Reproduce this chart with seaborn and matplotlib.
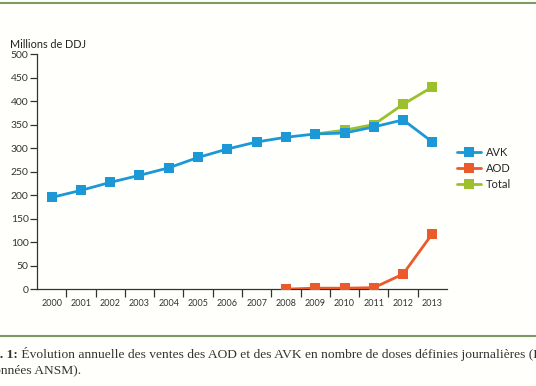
import matplotlib
matplotlib.use("Agg")
import matplotlib.pyplot as plt
import numpy as np
import pandas as pd
import seaborn as sns

years = list(range(2000, 2014))
avk = [195, 210, 227, 242, 258, 280, 298, 313, 323, 330, 332, 345, 360, 313]
aod_years = list(range(2008, 2014))
aod = [0, 2, 2, 3, 32, 118]
total_years = list(range(2009, 2014))
total = [330, 338, 350, 393, 430]

series_names = ["AVK", "AOD", "Total"]
colors = {"AVK": "#1b98d5", "AOD": "#ea5a2a", "Total": "#9cc02c"}

caption_lead = "Fig. 1:"
caption_main = " Évolution annuelle des ventes des AOD et des AVK en nombre de doses définies journalières (DDJ)"
caption_second = "(Données ANSM)."

frames = [
    pd.DataFrame({"year": years, "value": avk, "serie": "AVK"}),
    pd.DataFrame({"year": aod_years, "value": aod, "serie": "AOD"}),
    pd.DataFrame({"year": total_years, "value": total, "serie": "Total"}),
]
df = pd.concat(frames, ignore_index=True)
df["pos"] = df["year"] - years[0]

sns.set_style("white")
plt.rcParams["font.family"] = ["Lato", "DejaVu Sans"]

fig = plt.figure(figsize=(5.36, 3.86), dpi=100, facecolor="#fffffc")
ax = fig.add_axes([0.069, 0.251, 0.765, 0.609])
ax.set_facecolor("#fffffc")

# total drawn underneath AVK
for name, z in [("Total", 2), ("AVK", 3), ("AOD", 4)]:
    sub = df[df["serie"] == name]
    sns.lineplot(data=sub, x="pos", y="value", ax=ax, color=colors[name],
                 marker="s", markersize=6.5, markeredgewidth=0, linewidth=2,
                 label=name, zorder=z)

ax.set_xlim(-0.5, len(years) - 0.5)
ax.set_ylim(0, 500)
ax.set_yticks(np.arange(0, 501, 50))
ax.set_xticks(range(len(years)))
ax.set_xticklabels([str(y) for y in years], fontsize=6.5, color="#333333")
ax.set_xticks(np.arange(0.5, len(years) - 1, 1), minor=True)
ax.tick_params(axis="x", which="major", bottom=True, length=0, pad=7)
ax.tick_params(axis="x", which="minor", bottom=True, length=6, width=0.9,
               color="#333333", direction="out")
ax.tick_params(axis="y", left=True, length=5, width=0.9, color="#333333",
               labelsize=7.5, labelcolor="#333333", pad=1)
ax.set_xlabel("")
ax.set_ylabel("")
ax.grid(False)
for side in ["top", "right"]:
    ax.spines[side].set_visible(False)
for side in ["left", "bottom"]:
    ax.spines[side].set_color("#333333")
    ax.spines[side].set_linewidth(0.9)

handles, labels = ax.get_legend_handles_labels()
order = [labels.index(n) for n in series_names]
ax.legend([handles[i] for i in order], series_names, frameon=False,
          loc="upper left", bbox_to_anchor=(1.024, 0.605), fontsize=8,
          borderpad=0, borderaxespad=0, handlelength=2.2, handletextpad=0.45,
          labelspacing=0.45)

fig.text(0.018, 0.875, "Millions de DDJ", fontsize=7.8, color="#222222")

# framing rules and caption (cropped at the edges like the scanned page)
fig.add_artist(plt.Line2D([0, 1], [0.992, 0.992], color="#7d9a62", linewidth=1.5))
fig.add_artist(plt.Line2D([0, 1], [0.13, 0.13], color="#7d9a62", linewidth=1.5))
serif = ["Liberation Serif", "DejaVu Serif"]
lead = fig.text(-0.036, 0.072, caption_lead, fontsize=9.7, fontweight="bold",
                color="#333333", family=serif)
ax.annotate(caption_main, xy=(1, 0), xycoords=lead, va="bottom", ha="left",
            fontsize=9.7, color="#333333", family=serif, annotation_clip=False)
fig.text(-0.038, 0.033, caption_second, fontsize=9.7, color="#333333",
         family=serif)

fig.savefig("out.png", dpi=100, facecolor=fig.get_facecolor())
